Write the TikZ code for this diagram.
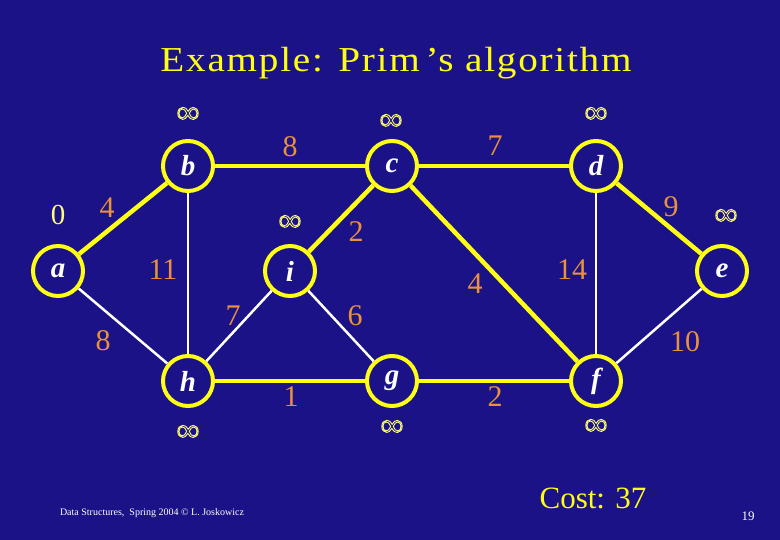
\documentclass[tikz,border=0pt]{standalone}
\usepackage{fontspec}
\setmainfont{Liberation Serif}
\definecolor{bg}{RGB}{26,18,134}
\definecolor{yl}{RGB}{255,255,20}
\definecolor{org}{RGB}{235,145,60}
\definecolor{inf}{RGB}{255,255,120}
\newcommand{\outinf}{\special{pdf:literal direct 1 Tr 0.9 w}∞\special{pdf:literal direct 0 Tr 0.4 w}}
\begin{document}
\begin{tikzpicture}[x=1pt,y=-1pt,
 vtx/.style={circle, draw=yl, line width=4pt, minimum size=50pt, inner sep=0pt, fill=bg, text=white, font=\fontsize{29}{29}\selectfont\bfseries\itshape},
 tree/.style={draw=yl, line width=4.5pt},
 other/.style={draw=white, line width=2.5pt},
 wt/.style={text=org, font=\fontsize{30}{30}\selectfont, inner sep=0pt},
 key/.style={text=inf, font=\fontsize{32}{32}\selectfont, inner sep=0pt}]
\fill[bg] (0,0) rectangle (780,540);
\useasboundingbox (0,0) rectangle (780,540);
\node[text=yl, font=\fontsize{35}{35}\selectfont\addfontfeatures{FakeStretch=1.12,LetterSpace=5}, anchor=base] (title) at (396,72) {Example: Prim\,’s algorithm};
% vertices
\node[vtx] (a) at (58,271) {a};
\node[vtx] (b) at (188,166) {b};
\node[vtx] (i) at (290,271) {i};
\node[vtx] (c) at (392,166) {c};
\node[vtx] (d) at (596,166) {d};
\node[vtx] (e) at (722,271) {e};
\node[vtx] (h) at (188,381) {h};
\node[vtx] (g) at (392,381) {g};
\node[vtx] (f) at (596,381) {f};
% non-tree edges
\draw[other] (a) -- (h);
\draw[other] (b) -- (h);
\draw[other] (i) -- (h);
\draw[other] (i) -- (g);
\draw[other] (d) -- (f);
\draw[other] (e) -- (f);
% tree edges
\draw[tree] (a) -- (b);
\draw[tree] (b) -- (c);
\draw[tree] (c) -- (d);
\draw[tree] (c) -- (i);
\draw[tree] (c) -- (f);
\draw[tree] (d) -- (e);
\draw[tree] (h) -- (g);
\draw[tree] (g) -- (f);
% weights
\node[wt] (w1) at (290,147) {8};
\node[wt] (w2) at (107,208) {4};
\node[wt] (w3) at (163,270) {11};
\node[wt] (w4) at (495,146) {7};
\node[wt] (w5) at (356,232) {2};
\node[wt] (w6) at (671,207) {9};
\node[wt] (w7) at (572,270) {14};
\node[wt] (w8) at (475,284) {4};
\node[wt] (w9) at (355,316) {6};
\node[wt] (w10) at (233,316) {7};
\node[wt] (w11) at (103,341) {8};
\node[wt] (w12) at (291,397) {1};
\node[wt] (w13) at (495,397) {2};
\node[wt] (w14) at (685,342) {10};
% keys
\node[key, font=\fontsize{29}{29}\selectfont] (ka) at (58,215) {0};
\node[key] (kb) at (188,115) {\outinf};
\node[key] (ki) at (290,223) {\outinf};
\node[key] (kc) at (391,122) {\outinf};
\node[key] (kd) at (596,115) {\outinf};
\node[key] (ke) at (726,217) {\outinf};
\node[key] (kh) at (188,433) {\outinf};
\node[key] (kg) at (392,428) {\outinf};
\node[key] (kf) at (596,427) {\outinf};
% footer
\node[text=yl, font=\fontsize{31}{31}\selectfont] (cost) at (593,498) {Cost: 37};
\node[text=white, font=\fontsize{13}{13}\selectfont] (pg) at (748,516) {19};
\node[text=white, font=\fontsize{10}{10}\selectfont] (ft) at (152,513) {Data Structures, \ Spring 2004 © L. Joskowicz};
\end{tikzpicture}
\end{document}
